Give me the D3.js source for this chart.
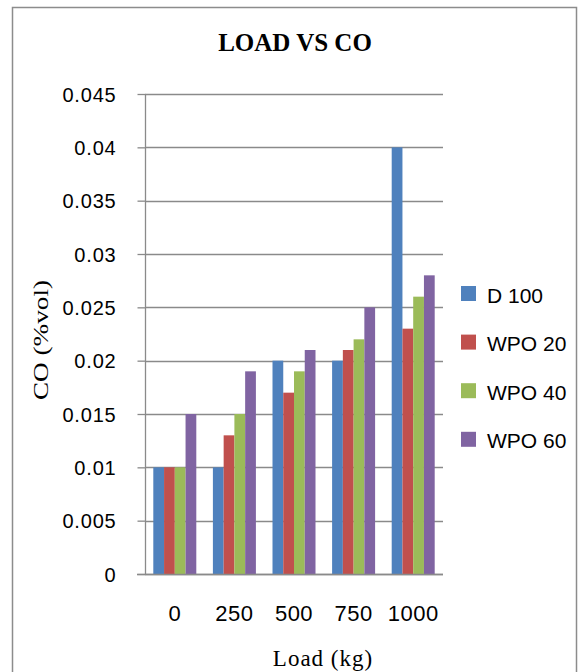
<!DOCTYPE html>
<html>
<head>
<meta charset="utf-8">
<script src="https://cdn.jsdelivr.net/npm/d3@7"></script>
<style>
  html, body { margin: 0; padding: 0; background: #fff; }
  svg { display: block; }
</style>
</head>
<body>
<div id="chart"></div>
<script>
// ---- data ----
const categories = ["0", "250", "500", "750", "1000"];
const seriesNames = ["D 100", "WPO 20", "WPO 40", "WPO 60"];
const d100  = [0.010, 0.010, 0.020, 0.020, 0.040];
const wpo20 = [0.010, 0.013, 0.017, 0.021, 0.023];
const wpo40 = [0.010, 0.015, 0.019, 0.022, 0.026];
const wpo60 = [0.015, 0.019, 0.021, 0.025, 0.028];
const yTicks = [0, 0.005, 0.01, 0.015, 0.02, 0.025, 0.03, 0.035, 0.04, 0.045];
const yTickLabels = ["0", "0.005", "0.01", "0.015", "0.02", "0.025", "0.03", "0.035", "0.04", "0.045"];
const colors = ["#4F81BD", "#C0504D", "#9BBB59", "#8064A2"];
const chartTitle = "LOAD VS CO";
const xTitle = "Load (kg)";
const yTitle = "CO (%vol)";

const seriesValues = [d100, wpo20, wpo40, wpo60];

const W = 579, H = 672;
const svg = d3.select("#chart").append("svg").attr("width", W).attr("height", H);

// outer frame
svg.append("rect").attr("x", 12.5).attr("y", 7.5).attr("width", 564).attr("height", 680)
  .attr("fill", "#fff").attr("stroke", "#8c8c8c").attr("stroke-width", 1.5);

const pL = 145, pR = 443, pT = 94, pB = 574;

const y = d3.scaleLinear().domain([0, 0.045]).range([pB, pT]);
const x0 = d3.scaleBand().domain(categories).range([pL, pR]).padding(0);
const groupW = 43;
const x1 = d3.scaleBand().domain(seriesNames).range([0, groupW]).padding(0);

// gridlines
svg.append("g").selectAll("line").data(yTicks).join("line")
  .attr("x1", pL).attr("x2", pR)
  .attr("y1", d => Math.round(y(d)) + 0.5).attr("y2", d => Math.round(y(d)) + 0.5)
  .attr("stroke", "#8a8a8a").attr("stroke-width", 1.3);

// bars
const groups = svg.append("g").selectAll("g").data(categories).join("g")
  .attr("transform", c => `translate(${x0(c) + (x0.bandwidth() - groupW) / 2},0)`);
groups.selectAll("rect").data((c, i) => seriesNames.map((s, j) => ({ s, j, v: seriesValues[j][i] })))
  .join("rect")
  .attr("x", d => x1(d.s))
  .attr("width", x1.bandwidth())
  .attr("y", d => y(d.v))
  .attr("height", d => y(0) - y(d.v))
  .attr("fill", d => colors[d.j]);

// y axis
const yAxis = d3.axisLeft(y).tickValues(yTicks).tickSize(8).tickPadding(21)
  .tickFormat((d, i) => yTickLabels[i]);
const gy = svg.append("g").attr("transform", `translate(${pL + 0.5},0)`).call(yAxis);
gy.select(".domain").attr("stroke", "#8a8a8a").attr("stroke-width", 1.3).attr("d", `M0,${pT}V${pB}`);
gy.selectAll(".tick line").attr("stroke", "#8a8a8a").attr("stroke-width", 1.3);
gy.selectAll(".tick text")
  .attr("font-family", "'Liberation Sans', Arial, sans-serif")
  .attr("font-size", 20).attr("letter-spacing", "0.8px").attr("fill", "#000")
  .attr("dy", "0.36em");

// x axis
const xAxis = d3.axisBottom(x0).tickSize(0).tickPadding(31);
const gx = svg.append("g").attr("transform", `translate(0,${pB + 0.5})`).call(xAxis);
gx.select(".domain").attr("stroke", "#8a8a8a").attr("stroke-width", 1.3).attr("d", `M${pL - 8},0H${pR}`);
gx.selectAll(".tick text")
  .attr("font-family", "'Liberation Sans', Arial, sans-serif")
  .attr("font-size", 22).attr("letter-spacing", "0.5px").attr("fill", "#000");

// title
svg.append("text").attr("x", 295).attr("y", 51).attr("text-anchor", "middle")
  .attr("font-family", "'Liberation Serif', 'Times New Roman', serif")
  .attr("font-weight", "bold").attr("font-size", 25).text(chartTitle);

// x title
svg.append("text").attr("x", 323).attr("y", 666).attr("text-anchor", "middle")
  .attr("font-family", "'Liberation Serif', 'Times New Roman', serif")
  .attr("font-size", 23).attr("letter-spacing", "1px").text(xTitle);

// y title
svg.append("text").attr("transform", "translate(48,340) rotate(-90)").attr("text-anchor", "middle")
  .attr("font-family", "'Liberation Serif', 'Times New Roman', serif")
  .attr("font-size", 21).attr("textLength", 120).attr("lengthAdjust", "spacingAndGlyphs").text(yTitle);

// legend
const lg = svg.append("g").selectAll("g").data(seriesNames).join("g")
  .attr("transform", (d, i) => `translate(461,${286 + i * 48.6})`);
lg.append("rect").attr("width", 15).attr("height", 15).attr("fill", (d, i) => colors[i]);
lg.append("text").attr("x", 26).attr("y", 16.5)
  .attr("font-family", "'Liberation Sans', Arial, sans-serif")
  .attr("font-size", 21).attr("fill", "#000").text(d => d);
</script>
</body>
</html>
